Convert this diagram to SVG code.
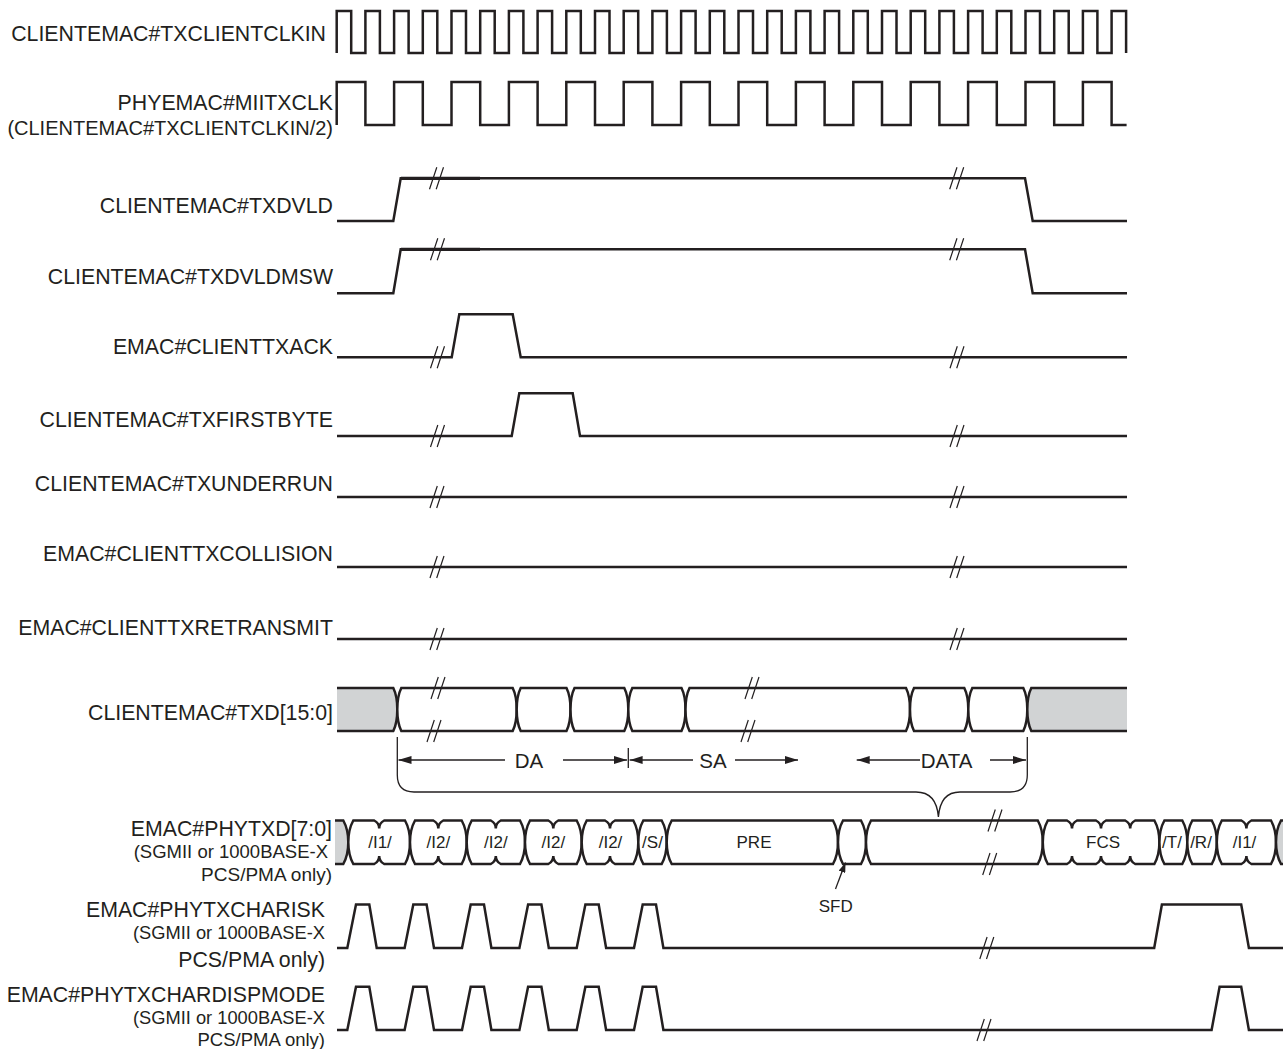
<svg xmlns="http://www.w3.org/2000/svg" xmlns:xlink="http://www.w3.org/1999/xlink" width="1283" height="1049" viewBox="0 0 1283 1049">
<style>
.w{fill:none;stroke:#231f20;stroke-width:2.5;stroke-linejoin:miter}
.cell{fill:#fff;stroke:#231f20;stroke-width:2.5}
.gray{fill:#d1d3d4;stroke:#231f20;stroke-width:2.5}
.dim{fill:none;stroke:#231f20;stroke-width:1.3}
text{font-family:"Liberation Sans",Arial,sans-serif;fill:#231f20}
.lbl{font-size:21.3px;text-anchor:end}
.sub{font-size:18.5px;text-anchor:end}
.bt{font-size:17px;text-anchor:middle}
.dt{font-size:20.5px;text-anchor:middle}
</style>
<defs>
<path id="brk" d="M-7,11 L0.3,-11 M-0.3,11 L7,-11" fill="none" stroke="#231f20" stroke-width="1.2"/>
<marker id="ah" viewBox="0 0 13 8" refX="13" refY="4" markerWidth="13" markerHeight="8" markerUnits="userSpaceOnUse" orient="auto"><path d="M0,0 L13,4 L0,8 Z" fill="#231f20"/></marker>
<marker id="ahs" viewBox="0 0 10 7" refX="10" refY="3.5" markerWidth="10" markerHeight="7" markerUnits="userSpaceOnUse" orient="auto"><path d="M0,0 L10,3.5 L0,7 Z" fill="#231f20"/></marker>
</defs>

<g id="txclientclkin">
<text class="lbl" x="326" y="41">CLIENTEMAC#TXCLIENTCLKIN</text>
<path class="w" d="M336.7,53 V11 H351.2 V53 H365.4 V11 H379.9 V53 H394.1 V11 H408.6 V53 H422.8 V11 H437.3 V53 H451.5 V11 H466 V53 H480.2 V11 H494.7 V53 H508.9 V11 H523.4 V53 H537.6 V11 H552.1 V53 H566.3 V11 H580.8 V53 H595 V11 H609.5 V53 H623.7 V11 H638.2 V53 H652.4 V11 H666.9 V53 H681.1 V11 H695.6 V53 H709.8 V11 H724.3 V53 H738.5 V11 H753 V53 H767.2 V11 H781.7 V53 H795.9 V11 H810.4 V53 H824.6 V11 H839.1 V53 H853.3 V11 H867.8 V53 H882 V11 H896.5 V53 H910.7 V11 H925.2 V53 H939.4 V11 H953.9 V53 H968.1 V11 H982.6 V53 H996.8 V11 H1011.3 V53 H1025.5 V11 H1040 V53 H1054.2 V11 H1068.7 V53 H1082.9 V11 H1097.4 V53 H1111.6 V11 H1126.1 V53"/>
</g>

<g id="miitxclk">
<text class="lbl" x="333" y="110">PHYEMAC#MIITXCLK</text>
<text class="lbl" style="font-size:20px" x="333" y="135">(CLIENTEMAC#TXCLIENTCLKIN/2)</text>
<path class="w" d="M336.7,125 V82 H365.4 V125 H394.1 V82 H422.8 V125 H451.5 V82 H480.2 V125 H508.9 V82 H537.6 V125 H566.3 V82 H595 V125 H623.7 V82 H652.4 V125 H681.1 V82 H709.8 V125 H738.5 V82 H767.2 V125 H795.9 V82 H824.6 V125 H853.3 V82 H882 V125 H910.7 V82 H939.4 V125 H968.1 V82 H996.8 V125 H1025.5 V82 H1054.2 V125 H1082.9 V82 H1111.6 V125 H1126.6"/>
</g>

<g id="txdvld">
<text class="lbl" x="333" y="213">CLIENTEMAC#TXDVLD</text>
<path class="w" d="M337,221 H393.3 L400.7,178.3 H1025 L1032.7,221 H1127"/>
<path class="w" style="stroke-width:3.3" d="M401,178.3 H480"/>
<use xlink:href="#brk" x="436.5" y="178.3"/>
<use xlink:href="#brk" x="956.7" y="178.3"/>
</g>

<g id="txdvldmsw">
<text class="lbl" x="333" y="284">CLIENTEMAC#TXDVLDMSW</text>
<path class="w" d="M337,293.3 H393.3 L400.7,249.3 H1025 L1032.7,293.3 H1127"/>
<path class="w" style="stroke-width:3.3" d="M401,249.3 H480"/>
<use xlink:href="#brk" x="437.5" y="249.3"/>
<use xlink:href="#brk" x="956.7" y="249.3"/>
</g>

<g id="clienttxack">
<text class="lbl" x="333" y="354">EMAC#CLIENTTXACK</text>
<path class="w" d="M337,357.3 H451.7 L459.3,314.3 H512.7 L520.7,357.3 H1127"/>
<use xlink:href="#brk" x="437.5" y="357.3"/>
<use xlink:href="#brk" x="957" y="357.3"/>
</g>

<g id="txfirstbyte">
<text class="lbl" x="333" y="427">CLIENTEMAC#TXFIRSTBYTE</text>
<path class="w" d="M337,436 H511.7 L519.3,393.3 H572.7 L580,436 H1127"/>
<use xlink:href="#brk" x="437.5" y="436"/>
<use xlink:href="#brk" x="957" y="436"/>
</g>

<g id="txunderrun">
<text class="lbl" x="333" y="491">CLIENTEMAC#TXUNDERRUN</text>
<path class="w" d="M337,497 H1127"/>
<use xlink:href="#brk" x="437" y="497"/>
<use xlink:href="#brk" x="957" y="497"/>
</g>

<g id="clienttxcollision">
<text class="lbl" x="333" y="561">EMAC#CLIENTTXCOLLISION</text>
<path class="w" d="M337,567 H1127"/>
<use xlink:href="#brk" x="437" y="567"/>
<use xlink:href="#brk" x="957" y="567"/>
</g>

<g id="clienttxretransmit">
<text class="lbl" x="333" y="635">EMAC#CLIENTTXRETRANSMIT</text>
<path class="w" d="M337,639 H1127"/>
<use xlink:href="#brk" x="437" y="639"/>
<use xlink:href="#brk" x="957" y="639"/>
</g>

<g id="txd">
<text class="lbl" x="333" y="720">CLIENTEMAC#TXD[15:0]</text>
<path class="gray" d="M337,688 H393.3 Q397.3,696 397.3,709.5 Q397.3,723 393.3,731 H337"/>
<path class="cell" d="M401.3,688 H512.7 Q516.7,696 516.7,709.5 Q516.7,723 512.7,731 H401.3 Q397.3,723 397.3,709.5 Q397.3,696 401.3,688 Z"/>
<path class="cell" d="M520.7,688 H566.5 Q570.5,696 570.5,709.5 Q570.5,723 566.5,731 H520.7 Q516.7,723 516.7,709.5 Q516.7,696 520.7,688 Z"/>
<path class="cell" d="M574.5,688 H624.3 Q628.3,696 628.3,709.5 Q628.3,723 624.3,731 H574.5 Q570.5,723 570.5,709.5 Q570.5,696 574.5,688 Z"/>
<path class="cell" d="M632.3,688 H681.5 Q685.5,696 685.5,709.5 Q685.5,723 681.5,731 H632.3 Q628.3,723 628.3,709.5 Q628.3,696 632.3,688 Z"/>
<path class="cell" d="M689.5,688 H906 Q910,696 910,709.5 Q910,723 906,731 H689.5 Q685.5,723 685.5,709.5 Q685.5,696 689.5,688 Z"/>
<path class="cell" d="M914,688 H964.3 Q968.3,696 968.3,709.5 Q968.3,723 964.3,731 H914 Q910,723 910,709.5 Q910,696 914,688 Z"/>
<path class="cell" d="M972.3,688 H1023.3 Q1027.3,696 1027.3,709.5 Q1027.3,723 1023.3,731 H972.3 Q968.3,723 968.3,709.5 Q968.3,696 972.3,688 Z"/>
<path class="gray" d="M1127,688 H1031.3 Q1027.3,696 1027.3,709.5 Q1027.3,723 1031.3,731 H1127"/>
<use xlink:href="#brk" x="438" y="688"/>
<use xlink:href="#brk" x="434" y="731"/>
<use xlink:href="#brk" x="752" y="688"/>
<use xlink:href="#brk" x="748" y="731"/>
</g>

<g id="phytxd">
<text class="lbl" x="332" y="836">EMAC#PHYTXD[7:0]</text>
<text class="sub" x="328" y="858">(SGMII or 1000BASE-X</text>
<text class="sub" style="font-size:19px" x="332" y="881">PCS/PMA only)</text>
<path class="gray" d="M335,820.5 H343.3 Q348.3,829.5 348.3,842.25 Q348.3,855 343.3,864 H335"/>
<path class="cell" d="M353.3,820.5 H374.2 Q379.2,823 379.2,828.5 Q379.2,823 384.2,820.5 H405 Q410,829.5 410,842.25 Q410,855 405,864 H384.2 Q379.2,861.5 379.2,856 Q379.2,861.5 374.2,864 H353.3 Q348.3,855 348.3,842.25 Q348.3,829.5 353.3,820.5 Z"/>
<path class="cell" d="M415,820.5 H433.3 Q438.3,823 438.3,828.5 Q438.3,823 443.3,820.5 H461.7 Q466.7,829.5 466.7,842.25 Q466.7,855 461.7,864 H443.3 Q438.3,861.5 438.3,856 Q438.3,861.5 433.3,864 H415 Q410,855 410,842.25 Q410,829.5 415,820.5 Z"/>
<path class="cell" d="M471.7,820.5 H490.8 Q495.8,823 495.8,828.5 Q495.8,823 500.8,820.5 H520 Q525,829.5 525,842.25 Q525,855 520,864 H500.8 Q495.8,861.5 495.8,856 Q495.8,861.5 490.8,864 H471.7 Q466.7,855 466.7,842.25 Q466.7,829.5 471.7,820.5 Z"/>
<path class="cell" d="M530,820.5 H548.3 Q553.3,823 553.3,828.5 Q553.3,823 558.3,820.5 H576.7 Q581.7,829.5 581.7,842.25 Q581.7,855 576.7,864 H558.3 Q553.3,861.5 553.3,856 Q553.3,861.5 548.3,864 H530 Q525,855 525,842.25 Q525,829.5 530,820.5 Z"/>
<path class="cell" d="M586.7,820.5 H605 Q610,823 610,828.5 Q610,823 615,820.5 H633.3 Q638.3,829.5 638.3,842.25 Q638.3,855 633.3,864 H615 Q610,861.5 610,856 Q610,861.5 605,864 H586.7 Q581.7,855 581.7,842.25 Q581.7,829.5 586.7,820.5 Z"/>
<path class="cell" d="M643.3,820.5 H661.7 Q666.7,829.5 666.7,842.25 Q666.7,855 661.7,864 H643.3 Q638.3,855 638.3,842.25 Q638.3,829.5 643.3,820.5 Z"/>
<path class="cell" d="M671.7,820.5 H833 Q838,829.5 838,842.25 Q838,855 833,864 H671.7 Q666.7,855 666.7,842.25 Q666.7,829.5 671.7,820.5 Z"/>
<path class="cell" d="M843,820.5 H861 Q866,829.5 866,842.25 Q866,855 861,864 H843 Q838,855 838,842.25 Q838,829.5 843,820.5 Z"/>
<path class="cell" d="M871,820.5 H1037.8 Q1042.8,829.5 1042.8,842.25 Q1042.8,855 1037.8,864 H871 Q866,855 866,842.25 Q866,829.5 871,820.5 Z"/>
<path class="cell" d="M1047.8,820.5 H1067 Q1072,823 1072,828.5 Q1072,823 1077,820.5 H1096 Q1101,823 1101,828.5 Q1101,823 1106,820.5 H1125.2 Q1130.2,823 1130.2,828.5 Q1130.2,823 1135.2,820.5 H1154.4 Q1159.4,829.5 1159.4,842.25 Q1159.4,855 1154.4,864 H1135.2 Q1130.2,861.5 1130.2,856 Q1130.2,861.5 1125.2,864 H1106 Q1101,861.5 1101,856 Q1101,861.5 1096,864 H1077 Q1072,861.5 1072,856 Q1072,861.5 1067,864 H1047.8 Q1042.8,855 1042.8,842.25 Q1042.8,829.5 1047.8,820.5 Z"/>
<path class="cell" d="M1164.4,820.5 H1182.3 Q1187.3,829.5 1187.3,842.25 Q1187.3,855 1182.3,864 H1164.4 Q1159.4,855 1159.4,842.25 Q1159.4,829.5 1164.4,820.5 Z"/>
<path class="cell" d="M1192.3,820.5 H1211.8 Q1216.8,829.5 1216.8,842.25 Q1216.8,855 1211.8,864 H1192.3 Q1187.3,855 1187.3,842.25 Q1187.3,829.5 1192.3,820.5 Z"/>
<path class="cell" d="M1221.8,820.5 H1241.4 Q1246.4,823 1246.4,828.5 Q1246.4,823 1251.4,820.5 H1271 Q1276,829.5 1276,842.25 Q1276,855 1271,864 H1251.4 Q1246.4,861.5 1246.4,856 Q1246.4,861.5 1241.4,864 H1221.8 Q1216.8,855 1216.8,842.25 Q1216.8,829.5 1221.8,820.5 Z"/>
<path class="gray" d="M1284,820.5 H1281 Q1276,829.5 1276,842.25 Q1276,855 1281,864 H1284"/>
<text class="bt" x="380" y="848">/I1/</text>
<text class="bt" x="438.3" y="848">/I2/</text>
<text class="bt" x="495.8" y="848">/I2/</text>
<text class="bt" x="553.3" y="848">/I2/</text>
<text class="bt" x="610.5" y="848">/I2/</text>
<text class="bt" x="652.5" y="848">/S/</text>
<text class="bt" x="754" y="848">PRE</text>
<text class="bt" x="1103" y="848">FCS</text>
<text class="bt" x="1172" y="848">/T/</text>
<text class="bt" x="1201" y="848">/R/</text>
<text class="bt" x="1244.5" y="848">/I1/</text>
<use xlink:href="#brk" x="995" y="820.5"/>
<use xlink:href="#brk" x="989.7" y="864"/>
</g>

<g id="phytxcharisk">
<text class="lbl" x="325" y="917">EMAC#PHYTXCHARISK</text>
<text class="sub" style="font-size:18.3px" x="325" y="939">(SGMII or 1000BASE-X</text>
<text class="lbl" x="325" y="967">PCS/PMA only)</text>
<path class="w" d="M337,948 H347.3 L356,904.5 H369.3 L376.7,948 H404.6 L413.3,904.5 H426.6 L434,948 H462 L470.7,904.5 H484 L491.4,948 H519.4 L528.1,904.5 H541.4 L548.8,948 H576.7 L585.4,904.5 H598.7 L606.1,948 H634 L642.7,904.5 H656 L663.4,948 H1154.2 L1161.9,904.5 H1241.2 L1248.9,948 H1283"/>
<use xlink:href="#brk" x="986.8" y="948"/>
</g>

<g id="phytxchardispmode">
<text class="lbl" x="325" y="1002">EMAC#PHYTXCHARDISPMODE</text>
<text class="sub" style="font-size:18.3px" x="325" y="1024">(SGMII or 1000BASE-X</text>
<text class="sub" x="325" y="1046">PCS/PMA only)</text>
<path class="w" d="M337,1030 H347.3 L356,986.7 H369.3 L376.7,1030 H404.6 L413.3,986.7 H426.6 L434,1030 H462 L470.7,986.7 H484 L491.4,1030 H519.4 L528.1,986.7 H541.4 L548.8,1030 H576.7 L585.4,986.7 H598.7 L606.1,1030 H634 L642.7,986.7 H656 L663.4,1030 H1211.6 L1219.6,986.7 H1241.2 L1248.9,1030 H1283"/>
<use xlink:href="#brk" x="984" y="1030"/>
</g>

<g id="connectors">
<path class="dim" d="M397.3,737 V775 Q397.3,792 414,792 H916 Q936.5,792 938.4,817 Q940.3,792 960,792 H1010 Q1027.3,792 1027.3,775 V737"/>
<path class="dim" d="M628.3,748 V768"/>
<path class="dim" d="M505,760 H398.5" marker-end="url(#ah)"/>
<path class="dim" d="M563,760 H627" marker-end="url(#ah)"/>
<path class="dim" d="M693,760 H629.6" marker-end="url(#ah)"/>
<path class="dim" d="M735,760 H798" marker-end="url(#ah)"/>
<path class="dim" d="M920,760 H856.7" marker-end="url(#ah)"/>
<path class="dim" d="M990,760 H1026" marker-end="url(#ah)"/>
<text class="dt" x="529" y="767.5">DA</text>
<text class="dt" x="713" y="767.5">SA</text>
<text class="dt" x="946.5" y="767.5">DATA</text>
<path class="dim" d="M835.5,889 L845.5,862.5" marker-end="url(#ahs)"/>
<text class="bt" x="835.7" y="912">SFD</text>
</g>
</svg>
